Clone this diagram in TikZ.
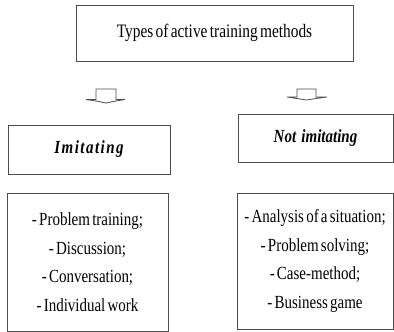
\documentclass[tikz,border=0pt]{standalone}
\usepackage{fontspec}
\setmainfont{Liberation Serif}[FakeStretch=0.81, WordSpace=0.6]
\usepackage{tikz}
\usepackage{xcolor}
\usetikzlibrary{positioning}

\begin{document}
\begin{tikzpicture}[x=1pt,y=-1pt,
		frame/.style={draw=black!70, line width=0.9pt, align=center, inner sep=0pt},
		kind/.style={frame, font=\fontsize{18.5}{20}\selectfont\bfseries\itshape},
		list/.style={frame, font=\fontsize{18.5}{28.5}\selectfont},
		blockarrow/.style={draw=black!70, line width=0.8pt, fill=white, line join=miter}]
	
		\useasboundingbox (0,0) rectangle (394,332);
		
		\node[frame, minimum width=277pt, minimum height=56pt,
			font=\fontsize{19}{20}\selectfont] (types) at (214.5,33)
			{Types of active training methods};
			
		\node[kind, minimum width=162pt, minimum height=49pt] (imit) at (89,149.5)
			{\addfontfeature{LetterSpace=8}Imitating};
		\node[kind, minimum width=155pt, minimum height=48pt] (notimit) at (315.5,138)
			{Not\hspace{3pt} imitating};
			
		\node[list, minimum width=161pt, minimum height=138pt] (imitlist) at (87.5,262)
			{- Problem training;\\ - Discussion;\\ - Conversation;\\ - Individual work};
		\node[list, minimum width=156pt, minimum height=136pt] (notimitlist) at (315,261)
			{- Analysis of a situation;\\ - Problem solving;\\ - Case-method;\\ - Business game};
			
		\draw[blockarrow] (86,99.5) -- (96,99.5) -- (96,89) -- (116,89) -- (116,99.5)
			-- (125,99.5) -- (116,101) -- (106,103) -- (96,101) -- cycle;
		\draw[blockarrow] (287,97) -- (297,97) -- (297,89) -- (316,89) -- (316,97)
			-- (327,97) -- (316,98.5) -- (306.5,100) -- (297,98.5) -- cycle;
			
\end{tikzpicture}
\end{document}
